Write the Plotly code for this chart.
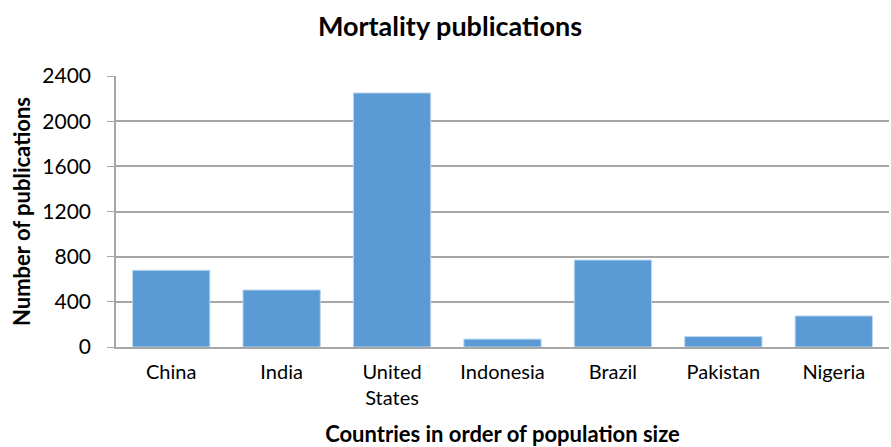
import plotly.graph_objects as go

# Publication counts per country, countries ordered by population size
countries = ["China", "India", "United<br>States", "Indonesia", "Brazil", "Pakistan", "Nigeria"]
publications = [680, 505, 2250, 70, 770, 92, 275]
y_ticks = [0, 400, 800, 1200, 1600, 2000, 2400]

font_family = "Lato, Open Sans, sans-serif"

fig = go.Figure(
    go.Bar(
        x=countries,
        y=publications,
        marker=dict(color="#5B9BD5", line=dict(color="#BDD7EE", width=1)),
    )
)

fig.update_layout(
    width=891,
    height=447,
    margin=dict(l=116, r=2, t=76, b=100),
    paper_bgcolor="white",
    plot_bgcolor="white",
    bargap=0.3,
    showlegend=False,
    font=dict(family=font_family, size=20, color="#000000"),
    title=dict(
        text="<b>Mortality publications</b>",
        x=0.505,
        xanchor="center",
        y=0.94,
        yanchor="middle",
        font=dict(size=27, family=font_family),
    ),
)

fig.update_xaxes(
    showline=True,
    linecolor="#A6A6A6",
    linewidth=2,
    ticks="",
    tickfont=dict(size=20),
    ticklabelstandoff=6,
    title=dict(text="<b>Countries in order of population size</b>", font=dict(size=22), standoff=22),
)

fig.update_yaxes(
    range=[0, 2400],
    tickvals=y_ticks,
    showgrid=True,
    gridcolor="#A6A6A6",
    gridwidth=1.5,
    showline=True,
    linecolor="#A6A6A6",
    linewidth=1.5,
    ticks="outside",
    ticklen=7,
    tickcolor="#A6A6A6",
    tickfont=dict(size=21),
    ticklabelstandoff=12,
    zeroline=False,
    title=dict(text="<b>Number of publications</b>", font=dict(size=22), standoff=6),
)

fig.write_html("out.html")
